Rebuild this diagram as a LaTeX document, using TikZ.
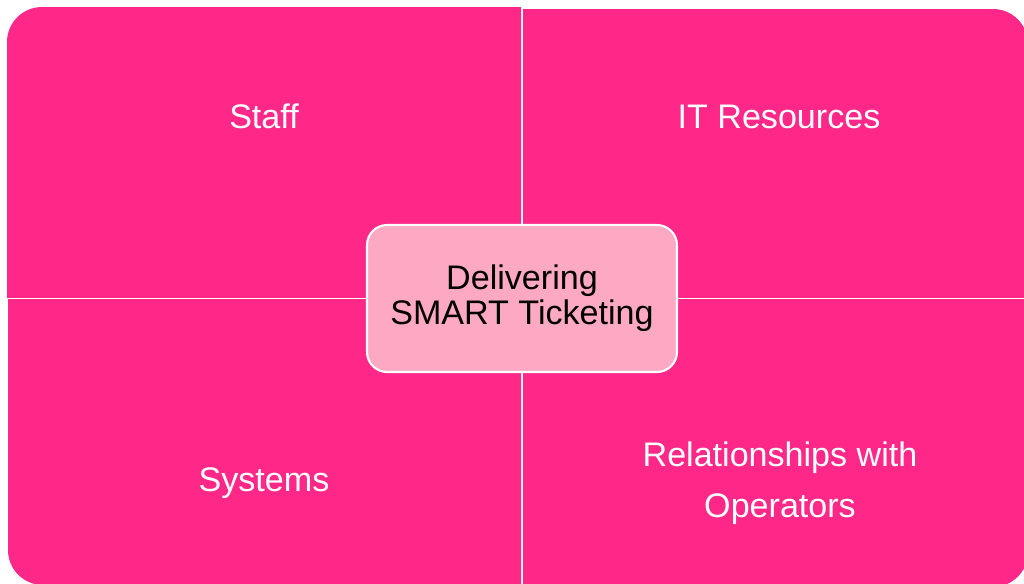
\documentclass[tikz,border=0pt]{standalone}
\usepackage{fontspec}
\setmainfont{Liberation Sans}
\definecolor{quadpink}{RGB}{255,40,137}
\definecolor{hubpink}{RGB}{253,169,196}
\begin{document}
\begin{tikzpicture}[x=0.02cm,y=-0.02cm]
\tikzstyle{quad}=[fill=quadpink,rounded corners=0.7cm]
\tikzstyle{label}=[text=white,font=\fontsize{19.4}{29}\selectfont,align=center]
\tikzstyle{hub}=[draw=white,line width=1.2pt,fill=hubpink,rounded corners=0.4cm,
  minimum width=6.2cm,minimum height=2.94cm,align=center,
  font=\fontsize{19.4}{20}\selectfont]

\useasboundingbox (0,0) rectangle (1024,583);
\clip (0,0) rectangle (1024,583);

% four quadrants, each with one rounded outer corner
\begin{scope}
  \clip (7,7) rectangle (521,297);
  \fill[quad] (7,7) rectangle (580,360);
\end{scope}
\begin{scope}
  \clip (523,9) rectangle (1030,297);
  \fill[quad] (460,9) rectangle (1028,360);
\end{scope}
\begin{scope}
  \clip (8,299) rectangle (521,590);
  \fill[quad] (8,240) rectangle (580,585);
\end{scope}
\begin{scope}
  \clip (523,299) rectangle (1030,590);
  \fill[quad] (460,240) rectangle (1028,587);
\end{scope}

\draw (264,116) node[label] (staff) {Staff};
\draw (779,117) node[label] (itres) {IT Resources};
\draw (264,483) node[label] (systems) {Systems};
\draw (780,483) node[label] (operators) {Relationships with\\Operators};

\draw (522,298.5) node[hub] (hub) {Delivering\\SMART Ticketing};
\end{tikzpicture}
\end{document}
